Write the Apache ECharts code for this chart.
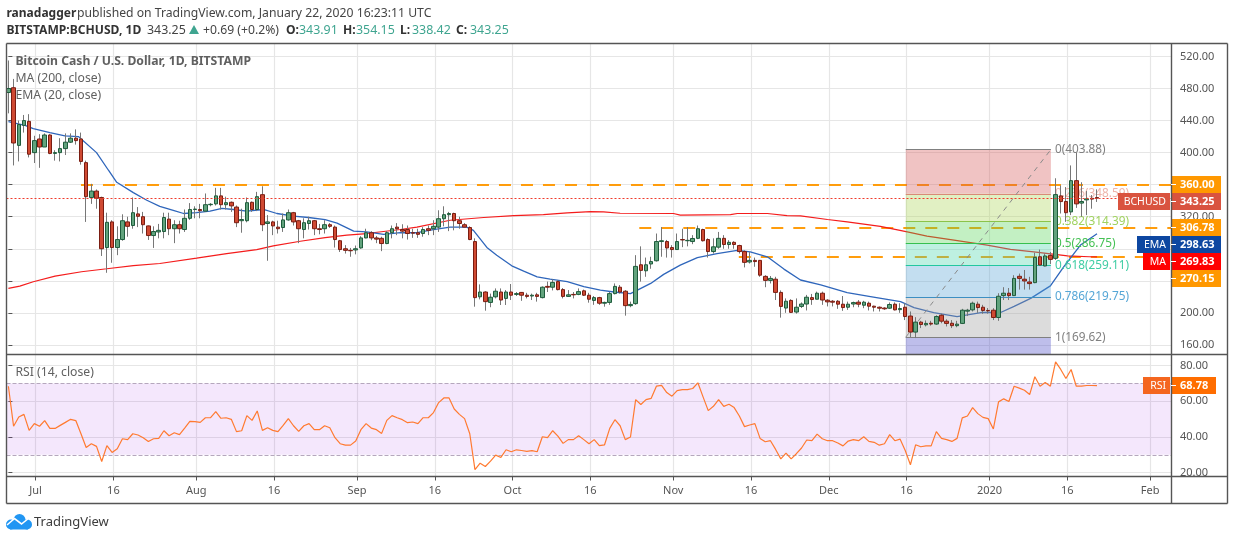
<!DOCTYPE html>
<html><head><meta charset="utf-8">
<style>html,body{margin:0;padding:0;background:#fff}#c{width:1234px;height:540px}</style>
<script src="https://cdn.jsdelivr.net/npm/echarts@6/dist/echarts.min.js"></script>
</head><body><div id="c"></div>
<script>
const opens = [
475,481,409,434,439,400,417,407,422,399,
400,405,413,418,417,387.5,344,352,344,281.5,
313.5,281.5,291.5,313.5,309,323.5,320,308.5,296.5,301,
301.5,317,305,310,304,318,329,329,327,335,
336,346,335,338,332,315,315,338,329,347.5,
311.5,313.5,307,306.5,316,325,315,304,311.5,315,
305,305,310,307,290,280,278,278.5,281,293.5,
300,293.5,293,286.5,300,307,304,304,300,300,
299,305,305,307,317.5,322.5,324,315,310,306.5,
289,220,226,213,220,226,218,226,223,225.5,
222,221,222.5,219,233,232,239,229,220.5,223,
223,227.5,222,215.5,219,212,213,224,232,227,
209,211.5,260,252.5,261,265,289,289,281.5,279,
291.5,290,289,293,304,291.5,276.5,282,293,285.3,
288,284,276.5,263.5,265.5,265.5,245.5,240.5,242,225.5,
206,215.5,201,208,211,219,217,224.5,215.8,214.5,
214.5,210.8,207,211,213.3,209.5,212,208.3,207,206,
205.8,210.8,204,207,196,176,188.4,185,187,186,
197,189.6,187,184,186.8,202.1,203.7,210.8,207,203,
203.3,194.2,221.5,224.5,221.5,245.6,242,238.5,237.7,270,
258.5,271.7,268,346,339,326,365,337,341,343,343.91];
const closes = [
480,412,435,440,398,415,407,422,399,400,
405,413,418,415,389,345,352,343,280,313,
281.5,291.5,315,308,325,320.5,310,296.5,301.5,303,
319,305,310,305,318,329,329.5,327.5,335,335.5,
346,335,337.5,333.5,312.5,316.5,337.5,329,345,310,
313.5,308.5,305,316,325,313.5,305,312.5,315,305,
304,310,308,291.5,279,278,277.5,280,293.5,300,
293.5,292,286.5,300,305,305,302,299,299.5,298,
304,303,308,317.5,322.5,324,315,311.5,307,291.5,
219,226,214,219.5,227,216,226,222,224,222,
220.5,222,220.5,232,232,238,229,220.5,222.5,222.5,
226.5,222,217,219,212,213,224,233,226,209,
210.5,258,253,260,264,289,290,281,279,289,
291,290.5,292.8,305,290,276.5,282.4,293,285.3,288,
285.3,276.5,263,265.5,264,247,240.5,243,225.5,208,
214.5,200.6,207,211,219.5,216.6,224.5,216,213.7,213.3,
210.8,206.6,210.8,212.8,210.8,213.3,208.3,207,205.8,205,
210.4,203.7,205.4,195.4,176,188.4,185.5,186.8,186,195.4,
189.6,186.8,184,185.9,203.3,203.3,212,206.6,203,202.5,
194.2,220.7,224.5,221.5,243,243,239.8,236.5,269.2,259.7,
271,266.7,347.6,338.9,325,365,336,339,342.2,342,343.25];
const highs = [
515,492,440,447,448,421,423,424,423,403,
418,424,424,429,425,390,361,354,345,325,
315.6,308,323,320,344,332,326,309,308,311,
325,325,315.6,315,329,337,333,336,349,337,
356,356,345,339,334,330,344,339,351,358,
322,315,315,324,329,326,316,318,320,316,
311,315.6,312,309,291,284.5,281,284,295.7,305,
302,296,295,302,309,312,310.6,309,305,305,
307,309,315.6,328,333,326,325,320,312,308,
293,235.5,227,224,230.5,230.5,228.4,236,226,226,
225,224,225,233,239,242,241,231,228.4,226,
230.5,229,225,221,220,214,226,236.7,234.7,228.4,
214,272,283,269,270,299,307,291,284.5,299,
305,307,297,309,305,293,293,301,297,290.7,
289.4,285,278,276,269,266,247,246,245,228,
218,217,218,213,222.4,223.6,226.5,226.5,217,216,
216,221,214,214,216,215,214,209,208,207,
213,213,212,212,201.7,194.6,190,190.5,190,197,
199,192,191,190,205,205,214,214,210,206,
205.8,224.5,232,231,247,249,253.5,245,275,279,
274,276,368,359,357,384,400,363,352,347,354.15];
const lows = [
449,384,389,425,394,387,381,407,398,390,
389,397,412,410,385,313.5,336,330,271,250,
262.5,272,290,295,305,307,299,291,281,293,
293,297,287,299,301,316,318,318,326,333,
334,329,329,326,307,300,313,326,327,302,
265,297,299,301,315,309,287,293,304,297,
298,299,306,281.5,276,274,270,273,280,293,
290.7,287,277,285.7,293,297,293,291.5,293.6,293.6,
295,297,297,301,308,302,303,305,306.5,290.7,
207.7,216.8,202.7,207,218,209.8,209.8,216,221,215,
218,216,214,218,226,228,228,218,220,218,
222,221,212.7,210,210,207.7,210,223,224,196.5,
207,210,239,245,255,264,270,269,269,279,
282,283,285.7,292,289,269,274,280,280,280,
280,274,256.7,261.6,257.5,245,232,236.7,216,194,
200,200,199,206,203,210,217,210,208,208,
205,202.5,203.7,207,207,205.8,203,201.7,201.7,203.7,
205,203,200,191,169.8,168.5,181,183,184,185,
187,183,181,182,186,196,201.7,200,198.8,199,
191,190,216,216,221,229,229,229,237,259,
258,261,266,324,313.6,322,331,320,322,330,338.42];
const rsiValues = [
68.5,46,51.2,52.7,43.7,47.5,46,49.2,44.8,44.8,
46.5,48.2,49.9,49.2,41.8,34.1,36.2,34.7,26.2,35.1,
31.3,33.4,39,38.5,41.8,41.1,39.6,37.5,39,39.2,
43.5,40.7,42.4,41.3,45,48.8,48.6,48.2,50.8,50.8,
54.2,50.5,50.8,49.9,43,43.5,52,49.3,54.6,43.7,
45.2,43.7,43,46.5,50.3,46.3,43.1,46.3,47.5,44.1,
44.1,46.3,45.2,39.6,36.2,35.4,35.4,37.7,44.1,47.5,
45,44.1,42,49.3,52,50.8,49.7,48,48.4,47.5,
50.8,50.8,53.7,59.3,61.9,61.9,55.7,52.7,50.3,41.8,
21.7,25.3,23.4,26.4,29.8,28.5,32.8,31.7,32.8,32.4,
31.9,32.3,31.7,40.1,39.6,43.5,40.5,36.4,38.5,38.5,
40.7,38.5,36.2,38.5,35.1,35.6,44.8,49.7,46.3,38.5,
40,61,58.2,61,61.7,68.5,69,64.9,62.9,66,
66.6,66.6,67.2,70.4,62.5,54.8,57.2,61,57.2,58.4,
56.5,51.8,45.8,46.7,47.5,39.2,37.3,37.9,33,27.7,
30.9,27.7,30.6,33.8,38.3,37.9,41.6,39,37.9,37.9,
36.6,35,37.7,38.5,37.9,40.1,37.5,37,35.4,36.2,
41.3,37.9,38.8,32.4,24.4,35.6,34.5,35,35,43,
39.2,38.5,37.5,39.2,50.7,51.8,56.5,53.1,51,50.3,
44.5,59.7,61.4,59.9,68.5,67.4,66.2,63.8,73.8,68.5,
70.6,68.5,82.2,77.9,72.8,77.9,68.5,68.5,68.9,68.9,68.78];
const emaDays = [0,3.2,4.8,8,10.9,13.5,17,19.3,20.9,24.1,26.7,29.2,31.8,33.8,36.3,38.9,41.2,43.4,46,49.2,51.8,55,57.9,61.1,63.4,66.6,69.1,72.4,75.6,78.8,82,85.2,88.4,89.7,92.3,94.2,97.1,99.4,102,104.5,107.8,111,114.2,116.8,120,123.9,126.4,129.6,132.9,136.7,140.6,143.1,146.4,149.6,152.8,156.7,161.8,166.3,172.1,174.7,178.5,183,187.6,191.4,194,197.2,201,203.6,206.8,210];
const emaValues = [438.6,434,430,425,421,420,400,378,363,350,340.5,333,328,324,325,327,330.5,329,327,329,324,320.6,319,316.4,312,302,301,298,300,300,304,307,307,303,281.6,272,258.7,252,245,242,239,232.6,228.4,226,224,236.7,248,259.5,269,274,278,276,270,254.6,241,234.8,225.3,220.3,214,206.6,200.4,195.4,200.4,200.4,208,218,233.6,257.6,284.6,298.63];
const maDays = [0,2.2,4.8,9,14.1,19,24.1,29.2,36.3,42.1,47.9,51.1,56.3,61.1,65.3,69.1,75.6,78.8,85.2,91.7,97.5,103.2,107.8,112.3,114.8,118,128.3,129.6,139.3,140.6,146.4,150.2,152.8,158,161.8,168.2,173.4,177.2,182.4,188.8,193.3,197.8,204.3,208.5,210];
const maValues = [230.5,233.4,238.8,245.9,251.3,255,259,261.6,268.3,274,279,283.6,289.4,294,297,299,304,307,315.6,319,321.4,322.6,324.7,326.4,326,324.3,324,322,322.6,324,324,321.4,321,316.5,313.6,308,301,295.8,290.8,284.6,279.2,276,271,270,269.83];
const dateTicks = [5,20,36,51,67,82,97,112,128,143,158,173,189,204,220];
const dateLabels = ['Jul','16','Aug','16','Sep','16','Oct','16','Nov','16','Dec','16','2020','16','Feb'];
const priceTicks = [160,200,240,280,320,360,400,440,480,520];
const rsiTicks = [20,40,60,80];
const fibRatios = ['0','0.236','0.382','0.5','0.618','0.786','1'];
const fibLevels = [403.88,348.59,314.39,286.75,259.11,219.75,169.62];
const fibLineColors = ['#808080','#d98a78','#8bc34a','#35c04f','#22c7a0','#3d8fc2','#808080'];
const fibLabelColors = ['#808080','#eeb4aa','#a0d25f','#45c154','#3fcda4','#55a6d6','#808080'];
const fibBandColors = ['rgba(212,83,83,.35)','rgba(169,212,83,.35)','rgba(83,212,83,.35)','rgba(69,212,169,.35)','rgba(83,161,212,.35)','rgba(155,155,155,.35)','rgba(69,69,198,.35)'];
const fibDays = [173.1,201.1];
const supportLevels = [360,306.78,270.15];
const supportStarts = [14,121.7,140.9];
const lastPrice = 343.25;

const PX_DAY = 5.184, X0 = 8.4, L = 6.5, AX = 1171.5, TOP = 43.5, MID = 354.5, BOT = 476.5;
const xMin = (L - X0) / PX_DAY, xMax = (AX - X0) / PX_DAY;
const GRID_SHIFT = 0.25;
const FONT = '"Noto Sans", sans-serif';
const tickValues = dateTicks.map(d => d + GRID_SHIFT);
const labelFor = v => { const k = dateTicks.indexOf(Math.round(v - GRID_SHIFT)); return k < 0 ? '' : dateLabels[k]; };

const wickData = opens.map((o, i) => [i, o, closes[i], lows[i], highs[i]]);
const bodyData = opens.map((o, i) => [i, o, closes[i], Math.min(o, closes[i]), Math.max(o, closes[i])]);
const zip = (a, b) => a.map((x, i) => [x, b[i]]);

const fibAreas = fibBandColors.map((c, k) => [
  {xAxis: fibDays[0], yAxis: fibLevels[k], itemStyle: {color: c}},
  {xAxis: fibDays[1], yAxis: k + 1 < fibLevels.length ? fibLevels[k + 1] : 148}
]);
const fibLines = fibLevels.map((v, k) => [
  {xAxis: fibDays[0], yAxis: v, lineStyle: {color: fibLineColors[k], width: 1, type: 'solid'},
   label: {show: true, position: 'end', distance: 4, formatter: fibRatios[k] + '(' + v.toFixed(2) + ')', color: fibLabelColors[k], fontFamily: FONT, fontSize: 11.8}},
  {xAxis: fibDays[1], yAxis: v}
]);
fibLines.push([
  {xAxis: fibDays[0], yAxis: fibLevels[6], lineStyle: {color: '#8a8a8a', width: 1, type: [5, 5]}, label: {show: false}},
  {xAxis: fibDays[1], yAxis: fibLevels[0]}
]);
const supportLines = supportLevels.map((v, k) => [
  {xAxis: supportStarts[k], yAxis: v}, {xAxis: xMax, yAxis: v}
]);

const G = [];
function txt(x, y, text, fill, size, weight, align) {
  G.push({type: 'text', z: 100, silent: true, x: x, y: y + 0.8, style: {text: text, fill: fill, font: (weight || 'normal') + ' ' + (size || 12) + 'px ' + FONT, verticalAlign: 'middle', align: align || 'left'}});
}
function rect(x, y, w, h, fill, z) {
  G.push({type: 'rect', z: z || 90, silent: true, shape: {x: x, y: y, width: w, height: h}, style: {fill: fill}});
}
function line(x1, y1, x2, y2, c, w) {
  G.push({type: 'line', z: 95, silent: true, shape: {x1: x1, y1: y1, x2: x2, y2: y2}, style: {stroke: c, lineWidth: w || 1.4}});
}
const FC = '#555';
line(L, TOP, 1227.5, TOP, FC); line(L, 503.5, 1227.5, 503.5, FC);
line(L, TOP, L, 503.5, FC); line(1227.5, TOP, 1227.5, 503.5, FC);
line(AX, TOP, AX, 503.5, FC); line(L, MID, 1227.5, MID, FC); line(L, BOT, 1227.5, BOT, FC);
txt(6.5, 12.5, 'ranadagger', '#333', 12, 'bold');
txt(77, 12.5, 'published on TradingView.com, January 22, 2020 16:23:11 UTC', '#444', 12.2);
txt(6.5, 29.5, 'BITSTAMP:BCHUSD, 1D', '#333', 12.1, 'bold');
txt(147, 29.5, '343.25', '#444', 12.4);
G.push({type: 'polygon', z: 100, silent: true, shape: {points: [[189, 34], [199, 34], [194, 25]]}, style: {fill: '#3fa590'}});
txt(203, 29.5, '+0.69 (+0.2%)', '#444', 12.2);
[['O:', 286, '343.91', 299], ['H:', 343, '354.15', 356], ['L:', 400, '338.42', 412], ['C:', 456, '343.25', 470]].forEach(p => {
  txt(p[1], 29.5, p[0], '#333', 12.1, 'bold');
  txt(p[3], 29.5, p[2], '#3fa590', 12.4);
});
txt(15.5, 61, 'Bitcoin Cash / U.S. Dollar, 1D, BITSTAMP', '#606060', 12.2, 'bold');
txt(15.5, 78, 'MA (200, close)', '#606060', 12.2);
txt(15.5, 95, 'EMA (20, close)', '#606060', 12.2);
txt(15.5, 371.5, 'RSI (14, close)', '#606060', 12.2);
function tag(yTop, h, value, color, name, nameX, nameColor, right) {
  rect(1171, yTop, (right || 1221) - 1171, h, color);
  txt(1180, yTop + h / 2, value, '#fff', 11, 'bold');
  line(1171, yTop + h / 2, 1176, yTop + h / 2, '#fff', 1);
  if (name) {
    rect(nameX, yTop, 1170 - nameX, h, nameColor || color);
    txt(1166, yTop + h / 2, name, '#fff', 10.5, 'normal', 'right');
  }
}
tag(176, 17, '360.00', '#ff9800');
tag(193, 17, '343.25', '#d9533f', 'BCHUSD', 1118);
tag(219, 17, '306.78', '#ff9800');
tag(236, 17, '298.63', '#0d47a1', 'EMA', 1137);
tag(253, 17, '269.83', '#ff0000', 'MA', 1143);
tag(270, 17, '270.15', '#ff9800');
tag(377, 17, '68.78', '#ff6d00', 'RSI', 1143, '#f4661f', 1216);
const LOGO = '#2196f3';
[[11, 524.5, 5], [19.5, 520, 6], [27, 524.5, 5]].forEach(c => G.push({type: 'circle', z: 100, silent: true, shape: {cx: c[0], cy: c[1], r: c[2]}, style: {fill: LOGO}}));
rect(10, 523, 18, 6.5, LOGO, 100);
G.push({type: 'polyline', z: 101, silent: true, shape: {points: [[7, 525], [14.5, 518.5], [21.5, 524], [29, 518]]}, style: {stroke: '#fff', fill: 'none', lineWidth: 1.6}});
txt(34, 521, 'TradingView', '#3c3c3c', 13);

const splitStyle = {show: true, lineStyle: {color: '#e6e6e6', width: 1.2}};
const axisCommon = {
  type: 'value', min: xMin, max: xMax,
  axisLine: {show: false},
  splitLine: splitStyle
};
const labelStyle = {color: '#555', fontFamily: FONT, fontSize: 11};
const option = {
  animation: false,
  backgroundColor: '#fff',
  grid: [
    {left: L, top: TOP, width: AX - L, height: MID - TOP},
    {left: L, top: MID, width: AX - L, height: BOT - MID}
  ],
  xAxis: [
    Object.assign({gridIndex: 0, axisTick: {show: false, customValues: tickValues}, axisLabel: {show: false, customValues: tickValues}}, axisCommon),
    Object.assign({gridIndex: 1, axisTick: {show: true, length: 4, customValues: tickValues, lineStyle: {color: FC}},
      axisLabel: Object.assign({show: true, customValues: tickValues, formatter: labelFor, margin: 9}, labelStyle)}, axisCommon)
  ],
  yAxis: [
    {gridIndex: 0, type: 'value', position: 'right', min: 148, max: 536.2,
     axisLine: {show: false}, axisTick: {show: true, length: 4, customValues: priceTicks, lineStyle: {color: FC}},
     axisLabel: Object.assign({customValues: priceTicks, formatter: v => v.toFixed(2), margin: 8.5, padding: [3, 0, 0, 0]}, labelStyle),
     splitLine: splitStyle},
    {gridIndex: 1, type: 'value', position: 'right', min: 17.8, max: 86.3,
     axisLine: {show: false}, axisTick: {show: true, length: 4, customValues: rsiTicks, lineStyle: {color: FC}},
     axisLabel: Object.assign({customValues: rsiTicks, formatter: v => v.toFixed(2), margin: 8.5, padding: [3, 0, 0, 0]}, labelStyle),
     splitLine: splitStyle}
  ],
  graphic: {elements: G},
  series: [
    {type: 'line', name: 'levels', xAxisIndex: 0, yAxisIndex: 0, data: [], silent: true, z: 1,
     markLine: {z: 1, silent: true, symbol: 'none', label: {show: false}, animation: false,
       lineStyle: {color: 'rgba(255,152,0,.95)', width: 2, type: [12, 10]}, data: supportLines}},
    {type: 'line', name: 'last', xAxisIndex: 0, yAxisIndex: 0, data: [], silent: true, z: 2,
     markLine: {z: 6, silent: true, symbol: 'none', label: {show: false}, animation: false,
       lineStyle: {color: '#ef3b2c', width: 1, type: [2, 2]}, data: [[{xAxis: xMin, yAxis: lastPrice}, {xAxis: xMax, yAxis: lastPrice}]]}},
    {type: 'line', name: 'MA', xAxisIndex: 0, yAxisIndex: 0, data: zip(maDays, maValues), showSymbol: false, z: 1.5, silent: true,
     lineStyle: {color: '#f41c1c', width: 1.2}},
    {type: 'line', name: 'EMA', xAxisIndex: 0, yAxisIndex: 0, data: zip(emaDays, emaValues), showSymbol: false, z: 1.5, silent: true,
     lineStyle: {color: '#2f66bb', width: 1.3}},
    {type: 'line', name: 'fib', xAxisIndex: 0, yAxisIndex: 0, data: [], silent: true, z: 2,
     markArea: {z: 2, silent: true, animation: false, data: fibAreas},
     markLine: {z: 2.5, silent: true, symbol: 'none', animation: false, data: fibLines}},
    {type: 'candlestick', name: 'wicks', xAxisIndex: 0, yAxisIndex: 0, data: wickData, barWidth: 1, z: 3, silent: true,
     itemStyle: {color: '#777', color0: '#777', borderColor: '#777', borderColor0: '#777', borderWidth: 1}},
    {type: 'candlestick', name: 'bodies', xAxisIndex: 0, yAxisIndex: 0, data: bodyData, barWidth: 4, z: 4, silent: true,
     itemStyle: {color: '#62a37d', color0: '#cf4a33', borderColor: '#1e5c3c', borderColor0: '#7a1d12', borderWidth: 1}},
    {type: 'line', name: 'RSI', xAxisIndex: 1, yAxisIndex: 1, data: rsiValues.map((v, i) => [i, v]), showSymbol: false, z: 4, silent: true,
     lineStyle: {color: '#ff7a30', width: 1.2},
     markArea: {z: 1, silent: true, animation: false, itemStyle: {color: 'rgba(152,33,232,.11)'}, data: [[{xAxis: xMin, yAxis: 70}, {xAxis: xMax, yAxis: 30}]]},
     markLine: {z: 2, silent: true, symbol: 'none', label: {show: false}, animation: false,
       lineStyle: {color: '#b5a7bd', width: 1, type: [4, 2]},
       data: [[{xAxis: xMin, yAxis: 70}, {xAxis: xMax, yAxis: 70}], [{xAxis: xMin, yAxis: 30}, {xAxis: xMax, yAxis: 30}]]}}
  ]
};
const chart = echarts.init(document.getElementById('c'), null, {width: 1234, height: 540});
chart.setOption(option);
</script></body></html>
